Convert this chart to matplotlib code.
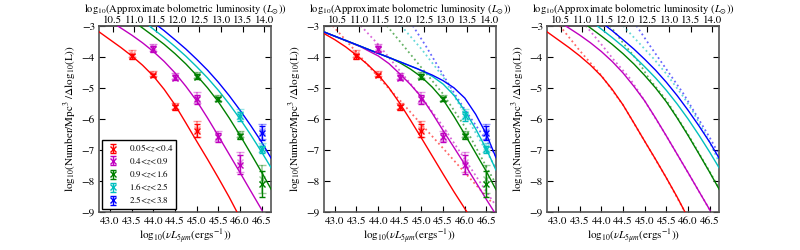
import matplotlib

matplotlib.use("Agg")
import matplotlib.pyplot as plt
import numpy as np

plt.rcParams["font.family"] = "STIXGeneral"
plt.rcParams["mathtext.fontset"] = "stix"
plt.rcParams["font.size"] = 8

COLORS = ["#ff0000", "#bf00bf", "#008000", "#00bfbf", "#0000ff"]
LABELS = ["0.05<$z$<0.4", "0.4<$z$<0.9", "0.9<$z$<1.6", "1.6<$z$<2.5", "2.5<$z$<3.8"]

# measured luminosity function points (log10 nuL5um, log10 phi, error)
pt_x = [
    [43.5, 44.0, 44.5, 45.0],
    [44.0, 44.5, 45.0, 45.5, 46.0],
    [45.0, 45.5, 46.0, 46.5],
    [46.0, 46.5],
    [46.5],
]
pt_y = [
    [-3.98, -4.60, -5.62, -6.38],
    [-3.75, -4.67, -5.37, -6.60, -7.47],
    [-4.64, -5.36, -6.56, -8.10],
    [-5.92, -6.98],
    [-6.45],
]
pt_err = [
    [0.08, 0.06, 0.08, 0.22],
    [0.10, 0.08, 0.15, 0.14, 0.30],
    [0.08, 0.08, 0.08, 0.42],
    [0.14, 0.12],
    [0.22],
]
# second (faded) estimate of the same bins
alt_y = [
    [-3.90, -4.55, -5.58, -6.33],
    [-3.70, -4.62, -5.32, -6.55, -7.40],
    [-4.58, -5.32, -6.50, -7.95],
    [-5.85, -6.92],
    [-6.40],
]
alt_err = [
    [0.12, 0.08, 0.10, 0.25],
    [0.12, 0.10, 0.18, 0.16, 0.32],
    [0.10, 0.10, 0.10, 0.45],
    [0.17, 0.15],
    [0.25],
]

# model A (double power law fits): panels 1 and 3, solid
modA_x = [
    [42.75, 43.0, 43.25, 43.5, 43.75, 44.0, 44.25, 44.5, 44.75, 45.0, 45.25,
     45.5, 45.75, 45.93],
    [43.17, 43.5, 43.75, 44.0, 44.25, 44.5, 44.75, 45.0, 45.25, 45.5, 45.75,
     46.0, 46.25, 46.51],
    [43.68, 44.0, 44.25, 44.5, 44.75, 45.0, 45.25, 45.5, 45.75, 46.0, 46.25,
     46.5, 46.72],
    [43.9, 44.25, 44.5, 44.75, 45.0, 45.25, 45.5, 45.75, 46.0, 46.25, 46.5,
     46.72],
    [44.1, 44.25, 44.5, 44.75, 45.0, 45.25, 45.5, 45.75, 46.0, 46.25, 46.5,
     46.72],
]
modA_y = [
    [-3.2, -3.45, -3.7, -3.97, -4.27, -4.62, -5.05, -5.55, -6.13, -6.72,
     -7.3, -7.9, -8.52, -9.0],
    [-3.0, -3.3, -3.55, -3.83, -4.15, -4.52, -4.95, -5.42, -5.97, -6.55,
     -7.14, -7.73, -8.33, -8.95],
    [-3.0, -3.33, -3.6, -3.9, -4.23, -4.6, -5.0, -5.45, -5.97, -6.53, -7.12,
     -7.72, -8.27],
    [-3.0, -3.38, -3.67, -3.98, -4.32, -4.68, -5.08, -5.52, -6.0, -6.52,
     -7.07, -7.58],
    [-3.0, -3.16, -3.45, -3.75, -4.08, -4.43, -4.82, -5.25, -5.72, -6.22,
     -6.75, -7.27],
]

# model B (common faint end): panel 2, solid
modB_x = [
    [42.75, 43.0, 43.25, 43.5, 43.75, 44.0, 44.25, 44.5, 44.75, 45.0, 45.25,
     45.5, 45.75, 46.05],
    [42.75, 43.6, 43.75, 44.0, 44.25, 44.5, 44.75, 45.0, 45.25, 45.5, 45.75,
     46.0, 46.25, 46.5, 46.68],
    [42.75, 44.3, 44.5, 44.75, 45.0, 45.25, 45.5, 45.75, 46.0, 46.25, 46.5,
     46.72],
    [42.75, 44.9, 45.25, 45.5, 45.75, 46.0, 46.25, 46.5, 46.72],
    [42.75, 43.5, 44.0, 44.5, 45.0, 45.25, 45.5, 45.75, 46.0, 46.25, 46.5,
     46.72],
]
modB_y = [
    [-3.25, -3.45, -3.68, -3.95, -4.24, -4.58, -5.0, -5.5, -6.05, -6.62,
     -7.2, -7.78, -8.35, -9.0],
    [-3.2, -3.68, -3.79, -3.97, -4.22, -4.55, -4.9, -5.3, -5.82, -6.38,
     -6.92, -7.47, -8.03, -8.6, -9.0],
    [-3.2, -4.05, -4.19, -4.4, -4.65, -4.98, -5.38, -5.92, -6.5, -7.1, -7.7,
     -8.28],
    [-3.2, -4.38, -4.63, -4.88, -5.24, -5.74, -6.32, -6.98, -7.65],
    [-3.2, -3.61, -3.89, -4.16, -4.44, -4.59, -4.77, -5.0, -5.33, -5.85,
     -6.5, -7.25],
]

# comparison model: panel 2, dotted
dot2_x = [
    [42.95, 43.5, 44.0, 44.5, 45.0, 45.5, 46.0, 46.64],
    [43.6, 44.0, 44.5, 45.0, 45.5, 46.0, 46.5, 46.72],
    [44.2, 44.5, 45.0, 45.5, 46.0, 46.5, 46.72],
    [44.53, 45.0, 45.5, 46.0, 46.5, 46.72],
    [44.8, 45.1, 45.4, 45.7, 46.0, 46.3, 46.5, 46.72],
]
dot2_y = [
    [-3.0, -3.85, -4.65, -5.4, -6.18, -6.95, -7.73, -8.72],
    [-3.0, -3.6, -4.45, -5.3, -6.25, -7.3, -8.35, -8.8],
    [-3.0, -3.5, -4.35, -5.2, -6.25, -7.55, -8.1],
    [-3.0, -3.75, -4.65, -5.85, -7.05, -7.6],
    [-3.0, -3.65, -4.35, -5.05, -5.7, -6.3, -6.7, -7.2],
]

# comparison model: panel 3, dotted
dot3_x = [
    [43.04, 43.5, 44.0, 44.5, 45.0, 45.5, 45.93],
    [43.64, 44.0, 44.3, 44.65, 45.0, 45.5, 46.0, 46.51],
    [44.2, 44.5, 44.85, 45.1, 45.5, 46.0, 46.5, 46.72],
    [44.5, 44.8, 45.2, 45.5, 45.9, 46.12, 46.5, 46.72],
    [44.81, 45.1, 45.5, 45.9, 46.2, 46.5, 46.72],
]
dot3_y = [
    [-3.0, -3.8, -4.6, -5.55, -6.72, -7.9, -9.0],
    [-3.0, -3.6, -4.12, -4.68, -5.42, -6.55, -7.73, -8.95],
    [-3.0, -3.55, -4.15, -4.7, -5.4, -6.5, -7.7, -8.25],
    [-3.0, -3.45, -4.05, -4.55, -5.3, -5.78, -6.75, -7.4],
    [-3.0, -3.6, -4.4, -5.2, -5.9, -6.6, -7.15],
]

XLIM = (42.75, 46.72)
YLIM = (-9, -3)
BOL_OFFSET = 32.56
FRAME = "#555555"


def draw_points(ax, legend=False):
    for i, c in enumerate(COLORS):
        ax.errorbar(pt_x[i], alt_y[i], yerr=alt_err[i], fmt="x", color=c,
                    alpha=0.4, ms=4, mew=1, capsize=3, elinewidth=1.2, zorder=4)
        ax.errorbar(pt_x[i], pt_y[i], yerr=pt_err[i], fmt="x", color=c,
                    ms=4, mew=1, capsize=2, elinewidth=1, zorder=5,
                    label=LABELS[i])
    if legend:
        ax.legend(loc="lower left", fontsize=6.5, numpoints=1,
                  handlelength=1.8, handletextpad=0.8, borderpad=0.35,
                  labelspacing=0.22, borderaxespad=0.3, fancybox=False,
                  edgecolor="black", framealpha=1)


def style(ax):
    ax.set_xlim(*XLIM)
    ax.set_ylim(*YLIM)
    ax.set_xticks(np.arange(43.0, 46.51, 0.5))
    ax.set_yticks(np.arange(-9, -2.9, 1))
    ax.tick_params(direction="in", top=False, right=True, length=4,
                   labelsize=8, pad=3)
    for s in ax.spines.values():
        s.set_color(FRAME)
        s.set_linewidth(1.2)
    ax.set_xlabel(r"log$_{10}$($\nu L_{5\mu m}$(ergs$^{-1}$))", fontsize=8,
                  labelpad=1)
    ax.set_ylabel(r"log$_{10}$(Number/Mpc$^3$ /$\Delta$log$_{10}$(L))",
                  fontsize=8, labelpad=2)
    top = ax.secondary_xaxis("top", functions=(lambda x: x - BOL_OFFSET,
                                               lambda b: b + BOL_OFFSET))
    top.set_xticks(np.arange(10.5, 14.01, 0.5))
    top.tick_params(direction="in", length=4, labelsize=7.8, pad=0.5)
    top.spines["top"].set_color(FRAME)
    top.spines["top"].set_linewidth(1.2)
    top.set_xlabel(r"log$_{10}$(Approximate bolometric luminosity ($L_{\odot}$))",
                   fontsize=7.6, labelpad=2)


fig = plt.figure(figsize=(8, 2.5), dpi=100)
lefts = [0.124, 0.405, 0.684]
axes = [fig.add_axes([l, 0.152, 0.215, 0.745]) for l in lefts]

# panel 1
ax = axes[0]
for i, c in enumerate(COLORS):
    ax.plot(modA_x[i], modA_y[i], color=c, lw=1, zorder=3)
draw_points(ax, legend=True)
style(ax)

# panel 2
ax = axes[1]
for i, c in enumerate(COLORS):
    ax.plot(dot2_x[i], dot2_y[i], color=c, ls=":", lw=1.3, alpha=0.6, zorder=2)
    ax.plot(modB_x[i], modB_y[i], color=c, lw=1, zorder=3)
draw_points(ax)
style(ax)

# panel 3
ax = axes[2]
for i, c in enumerate(COLORS):
    ax.plot(dot3_x[i], dot3_y[i], color=c, ls=":", lw=1.3, alpha=0.6, zorder=2)
    ax.plot(modA_x[i], modA_y[i], color=c, lw=1, zorder=3)
style(ax)

fig.savefig("out.png", dpi=100)
